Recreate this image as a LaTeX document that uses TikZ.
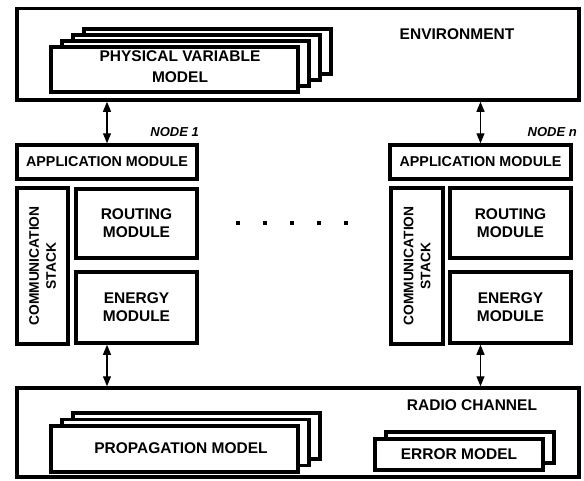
\documentclass[tikz,border=0pt]{standalone}
\usepackage{fontspec}
\setmainfont{Liberation Sans}
\usetikzlibrary{arrows.meta}
\begin{document}
\begin{tikzpicture}[x=1pt,y=-1pt,
  box/.style={draw=black, line width=3.5pt, fill=white, inner sep=0pt, align=center,
    font=\bfseries\fontsize{15.5}{18}\selectfont},
  txt/.style={inner sep=0pt, align=center, font=\bfseries\fontsize{15.5}{21}\selectfont},
  apptxt/.style={font=\bfseries\fontsize{14.3}{17}\selectfont},
  stacktxt/.style={font=\bfseries\fontsize{13.8}{17}\selectfont},
  nodelbl/.style={inner sep=0pt, anchor=east, font=\bfseries\itshape\fontsize{13}{15}\selectfont},
  arr/.style={line width=1.2pt, {Triangle[length=10pt,width=8pt]}-{Triangle[length=10pt,width=8pt]}},
  dotmark/.style={fill=black, minimum size=4pt, inner sep=0pt}]
\useasboundingbox (0,0) rectangle (584,480);

% Environment
\node[box, minimum width=562pt, minimum height=91.5pt] (env) at (298,54.25) {};
\node[txt] (envt) at (457,34) {ENVIRONMENT};
\node[box, minimum width=247pt, minimum height=45pt] (phys4) at (207.5,51.5) {};
\node[box, minimum width=247pt, minimum height=45pt] (phys3) at (196.5,57.5) {};
\node[box, minimum width=247pt, minimum height=45pt] (phys2) at (185.5,63.5) {};
\node[box, minimum width=247pt, minimum height=45pt] (phys) at (174.5,69.5) {};
\node[txt] (physt) at (180,67) {PHYSICAL VARIABLE\\MODEL};

% Node 1
\node[nodelbl] (n1lbl) at (199,132) {NODE 1};
\node[box, apptxt, minimum width=180pt, minimum height=34pt] (app1) at (107,162) {APPLICATION MODULE};
\node[box, stacktxt, rotate=90, minimum width=156pt, minimum height=51pt] (comm1) at (42.5,266) {COMMUNICATION\\STACK};
\node[box, minimum width=121pt, minimum height=69pt] (rout1) at (136.5,223.5) {ROUTING\\MODULE};
\node[box, minimum width=121pt, minimum height=71pt] (ener1) at (136.5,307.5) {ENERGY\\MODULE};

% Node n
\node[nodelbl] (nnlbl) at (577,132) {NODE \textit{n}};
\node[box, apptxt, minimum width=181pt, minimum height=34pt] (app2) at (480.5,162) {APPLICATION MODULE};
\node[box, stacktxt, rotate=90, minimum width=156pt, minimum height=52pt] (comm2) at (417,266) {COMMUNICATION\\STACK};
\node[box, minimum width=121pt, minimum height=70pt] (rout2) at (510.5,223) {ROUTING\\MODULE};
\node[box, minimum width=121pt, minimum height=71pt] (ener2) at (510.5,307.5) {ENERGY\\MODULE};

% dots
\foreach \i/\xx in {1/238,2/265,3/292,4/319,5/346}
  \node[dotmark] (dot\i) at (\xx,223) {};

% Radio channel
\node[box, minimum width=562pt, minimum height=89pt] (radio) at (298,432.5) {};
\node[txt] (radiot) at (472,405) {RADIO CHANNEL};
\node[box, minimum width=247pt, minimum height=46pt] (prop3) at (196.5,436) {};
\node[box, minimum width=247pt, minimum height=46pt] (prop2) at (185.5,442.5) {};
\node[box, minimum width=247pt, minimum height=46pt] (prop) at (174.5,449) {};
\node[txt] (propt) at (181,448) {PROPAGATION MODEL};
\node[box, minimum width=168pt, minimum height=31pt] (err2) at (470,447.5) {};
\node[box, minimum width=168pt, minimum height=31pt] (err) at (459,454.5) {ERROR MODEL};

% arrows
\draw[arr] (env.south -| app1.north) -- (app1.north);
\draw[arr] (env.south -| app2.north) -- (app2.north);
\draw[arr] (ener1.south -| app1.south) -- (radio.north -| app1.south);
\draw[arr] (ener2.south -| app2.south) -- (radio.north -| app2.south);
\end{tikzpicture}
\end{document}
